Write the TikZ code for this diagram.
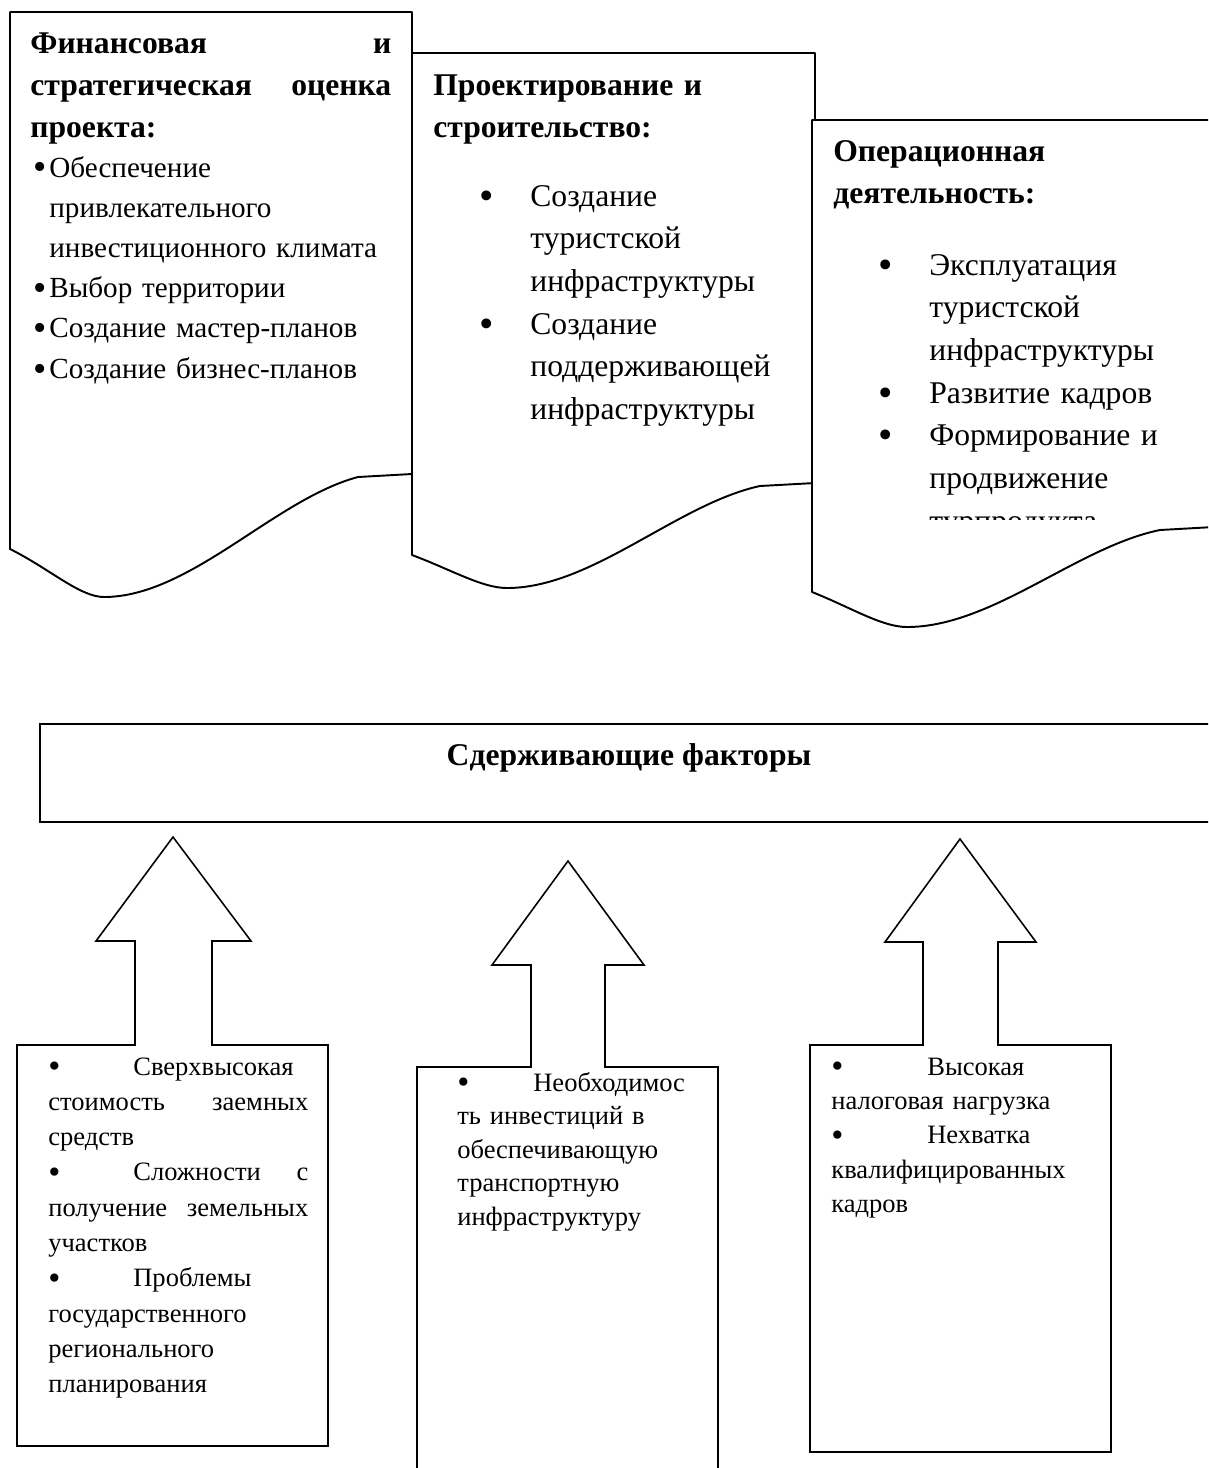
\documentclass[tikz,border=0pt]{standalone}
\usepackage{fontspec}
\setmainfont{Liberation Serif}
\newcommand{\jline}[2]{\leavevmode\hbox to #1{#2}}
\newcommand{\dotb}{\raisebox{-0.1em}{\scalebox{1.3}{\textbullet}}}
\newcommand{\bul}[1]{\makebox[#1][l]{\dotb}}
\newcommand{\itm}[1]{\leavevmode\llap{\dotb\hspace{#1}}}

\begin{document}
\begin{tikzpicture}[x=0.02cm,y=-0.02cm,
  doc/.style={line width=1.1pt,fill=white,line join=round},
  blk/.style={line width=0.9pt,fill=white},
  hd/.style={anchor=base west,inner sep=0pt,text width=8cm,
    font=\fontsize{18}{24}\selectfont\bfseries},
  big/.style={anchor=base west,inner sep=0pt,text width=8cm,
    font=\fontsize{18}{24.3}\selectfont},
  mid/.style={anchor=base west,inner sep=0pt,text width=8cm,
    font=\fontsize{16.6}{22.9}\selectfont},
  sml/.style={anchor=base west,inner sep=0pt,text width=6.5cm,
    font=\fontsize{15.1}{#1}\selectfont},
  sml/.default=20.1pt]
\useasboundingbox (0,0) rectangle (1208,1468);
\fill[white] (0,0) rectangle (1208,1468);
\clip (0,0) rectangle (1208,1468);

% top row
\draw[doc] (412,474) -- (412,12) -- (10,12) -- (10,549)
  .. controls (50,569) and (80,597) .. (104,597)
  .. controls (190,597) and (275,499) .. (358,477) -- cycle;
\node[hd] (fin) at (30,53) {\jline{7.22cm}{Финансовая\hfill и}\\
  \jline{7.22cm}{стратегическая\hfill оценка}\\ проекта:};
\node[mid] (finl) at (49,177) {\itm{0.06cm}Обеспечение\\
  привлекательного\\ инвестиционного климата\\
  \itm{0.06cm}Выбор территории\\
  \itm{0.06cm}Создание мастер-планов\\
  \itm{0.06cm}Создание бизнес-планов};

\draw[doc] (815,483) -- (815,53) -- (412,53) -- (412,555)
  .. controls (452,570) and (482,588) .. (507,588)
  .. controls (592,588) and (677,504) .. (760,486) -- cycle;
\node[hd] (proj) at (433,95) {Проектирование и\\ строительство:};
\node[big] (projl) at (530,206) {\itm{0.72cm}Создание\\
  туристской\\ инфраструктуры\\
  \itm{0.72cm}Создание\\
  поддерживающей\\ инфраструктуры};

\draw[doc] (1214,527) -- (1214,120) -- (812,120) -- (812,592)
  .. controls (852,608) and (882,627) .. (907,627)
  .. controls (992,627) and (1077,547) .. (1160,530) -- cycle;
\node[hd] (oper) at (833,161) {Операционная\\ деятельность:};
\begin{scope}
  \clip (812,120) rectangle (1214,519);
  \node[big] (operl) at (929,275) {\itm{0.72cm}Эксплуатация\\
    туристской\\ инфраструктуры\\
    \itm{0.72cm}Развитие кадров\\
    \itm{0.72cm}Формирование и\\
    продвижение\\ турпродукта};
\end{scope}

% bottom row
\draw[line width=1.6pt] (40,724) rectangle (1220,822);
\node[anchor=base,font=\fontsize{18}{22}\selectfont\bfseries] (sdf) at (629,765)
  {Сдерживающие факторы};

\draw[blk] (17,1446) -- (17,1045) -- (135,1045) -- (135,941) -- (96,941)
  -- (173,837) -- (251,941) -- (212,941) -- (212,1045) -- (328,1045)
  -- (328,1446) -- cycle;
\node[sml] (f1) at (48,1075) {\bul{1.7cm}Сверхвысокая\\
  \jline{5.2cm}{стоимость\hfill заемных}\\ средств\\
  \jline{5.2cm}{\bul{1.7cm}Сложности\hfill с}\\
  \jline{5.2cm}{получение\hfill земельных}\\ участков\\
  \bul{1.7cm}Проблемы\\ государственного\\ регионального\\ планирования};

\draw[blk] (417,1490) -- (417,1067) -- (531,1067) -- (531,965) -- (492,965)
  -- (568,861) -- (644,965) -- (605,965) -- (605,1067) -- (718,1067)
  -- (718,1490) -- cycle;
\node[sml=19.1pt] (f2) at (457,1091) {\bul{1.52cm}Необходимос\\
  ть инвестиций в\\ обеспечивающую\\ транспортную\\ инфраструктуру};

\draw[blk] (810,1452) -- (810,1045) -- (923,1045) -- (923,942) -- (885,942)
  -- (960,839) -- (1036,942) -- (998,942) -- (998,1045) -- (1111,1045)
  -- (1111,1452) -- cycle;
\node[sml=19.6pt] (f3) at (831,1075) {\bul{1.92cm}Высокая\\
  налоговая нагрузка\\ \bul{1.92cm}Нехватка\\ квалифицированных\\ кадров};
\end{tikzpicture}
\end{document}
